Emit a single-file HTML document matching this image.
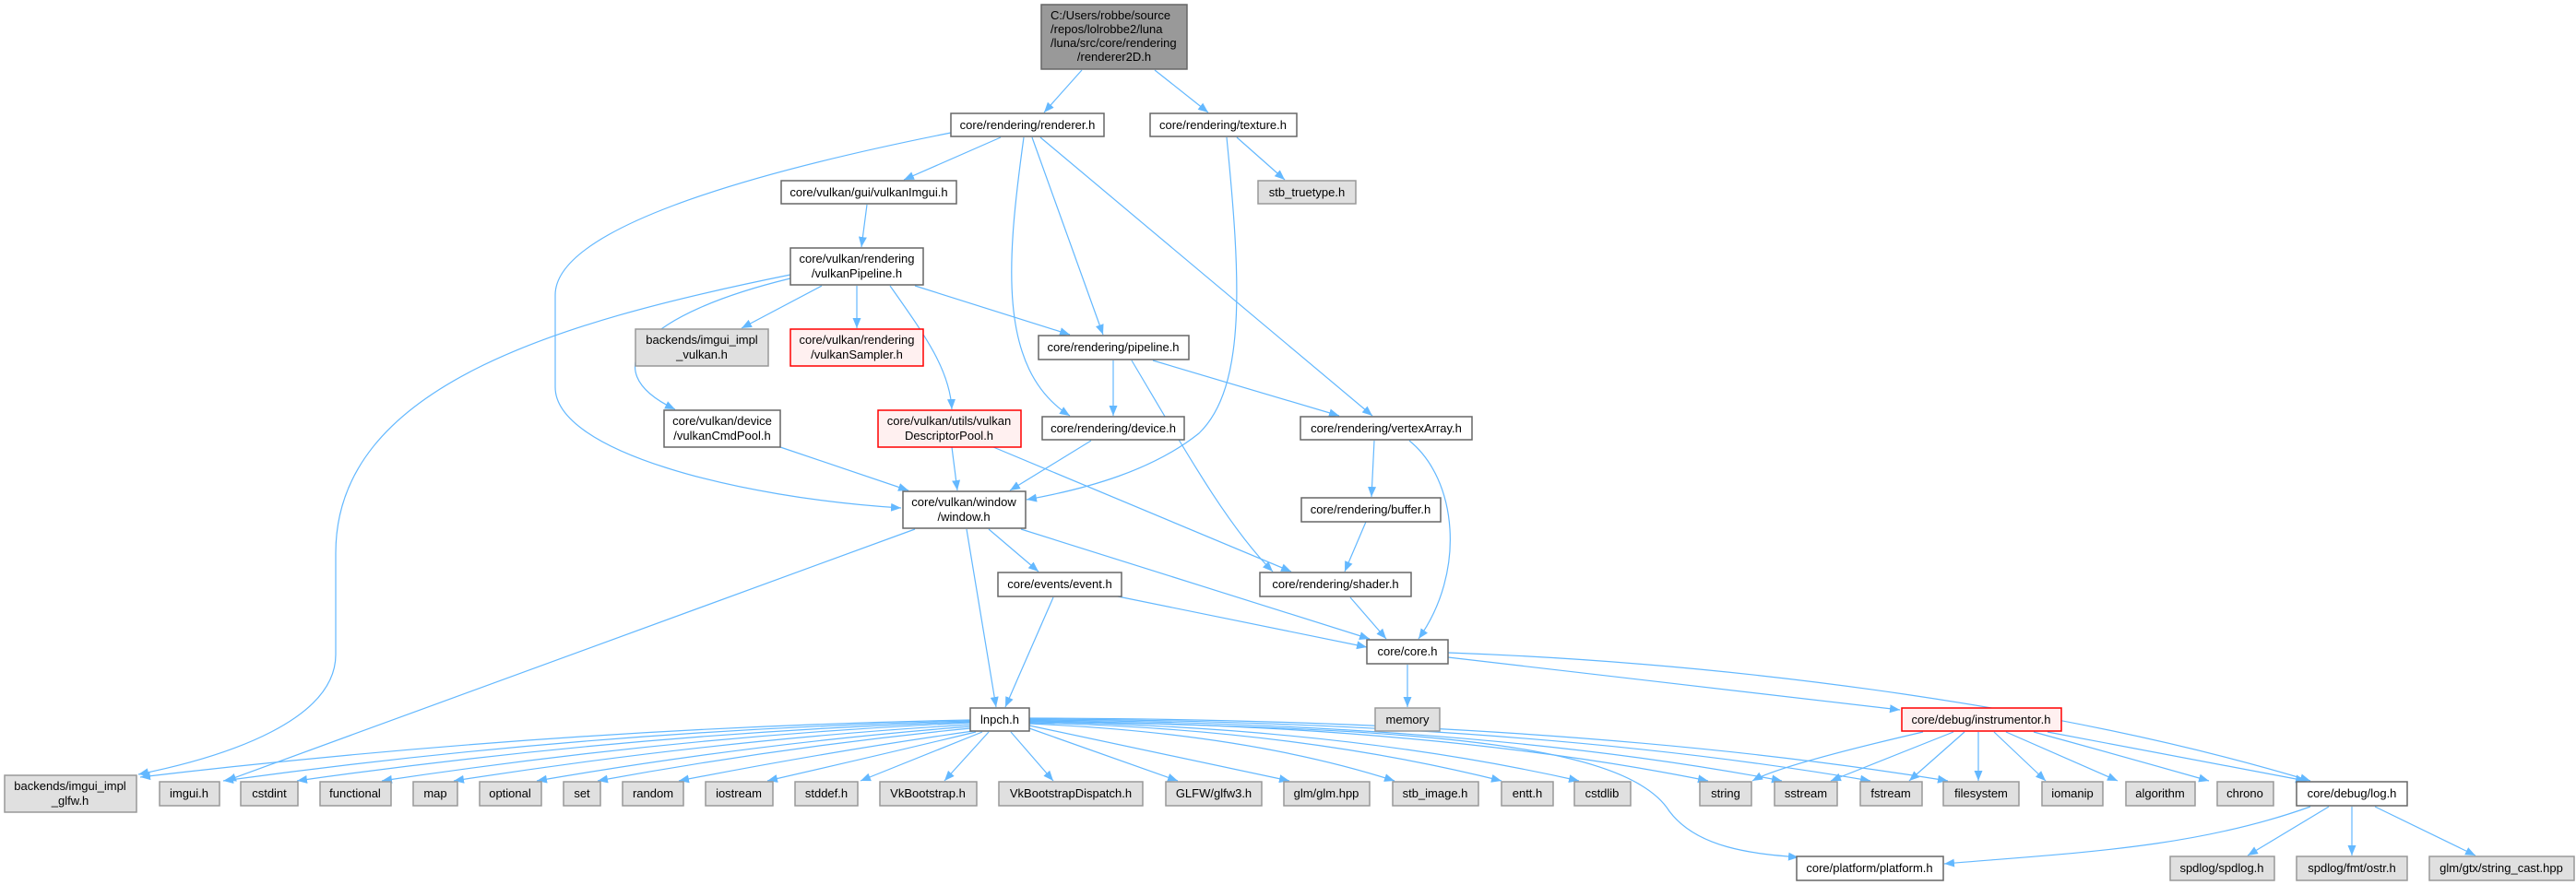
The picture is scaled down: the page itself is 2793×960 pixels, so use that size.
<!DOCTYPE html>
<html><head><meta charset="utf-8"><style>
html,body{margin:0;padding:0;background:#fff;}
svg{display:block;}
text{font-family:"Liberation Sans",Arial,sans-serif;font-size:13px;fill:#000;}
.e{fill:none;stroke:#63b8ff;stroke-width:1.2;}
.n{fill:#fff;stroke:#666;stroke-width:1.5;}
.g{fill:#e0e0e0;stroke:#999;stroke-width:1.5;}
.r{fill:#fff0f0;stroke:#f00;stroke-width:1.5;}
.root{fill:#999;stroke:#666;stroke-width:1.5;}
</style></head><body>
<svg width="2793" height="960" viewBox="0 0 2793 960" xmlns="http://www.w3.org/2000/svg">
<defs><marker id="a" markerWidth="12" markerHeight="10" refX="11" refY="5" orient="auto" markerUnits="userSpaceOnUse"><path d="M0,0.5 L11,5 L0,9.5 Z" fill="#63b8ff"/></marker></defs>
<g marker-end="url(#a)">
<path class="e" d="M1173,76 L1132,122"/>
<path class="e" d="M1252,76 L1310,122"/>
<path class="e" d="M1031,144 C800,190 602,250 602,320 L602,420 C602,490 800,540 977,551"/>
<path class="e" d="M1085,149 L980,195"/>
<path class="e" d="M1110,149 C1092,280 1080,400 1160,451"/>
<path class="e" d="M1119,149 L1196,363"/>
<path class="e" d="M1128,149 L1488,451"/>
<path class="e" d="M1330,149 C1345,300 1352,420 1300,470 C1250,510 1180,530 1113,542"/>
<path class="e" d="M1341,149 L1393,195"/>
<path class="e" d="M940,222 L934,268"/>
<path class="e" d="M857,298 C600,350 364,420 364,600 L364,710 C364,780 250,820 150,840"/>
<path class="e" d="M857,302 C700,340 640,400 732,444"/>
<path class="e" d="M891,310 L804,356"/>
<path class="e" d="M929,310 L929,356"/>
<path class="e" d="M965,310 C1000,360 1030,400 1032,444"/>
<path class="e" d="M992,310 L1160,363"/>
<path class="e" d="M1207,391 L1207,451"/>
<path class="e" d="M1227,391 C1280,480 1330,570 1380,620"/>
<path class="e" d="M1250,391 L1452,451"/>
<path class="e" d="M846,485 L985,532"/>
<path class="e" d="M1032,485 L1038,532"/>
<path class="e" d="M1077,485 L1400,620"/>
<path class="e" d="M1183,478 L1095,532"/>
<path class="e" d="M1490,478 L1487,539"/>
<path class="e" d="M1528,478 C1580,520 1590,620 1538,693"/>
<path class="e" d="M1481,566 L1458,620"/>
<path class="e" d="M992,574 L245,847"/>
<path class="e" d="M1048,574 L1080,767"/>
<path class="e" d="M1072,574 L1126,620"/>
<path class="e" d="M1107,574 L1485,693"/>
<path class="e" d="M1212,647 L1482,702"/>
<path class="e" d="M1142,648 L1090,767"/>
<path class="e" d="M1464,648 L1503,693"/>
<path class="e" d="M1526,721 L1526,767"/>
<path class="e" d="M1570,713 L2060,770"/>
<path class="e" d="M1570,708 C1900,720 2250,770 2505,847"/>
<!-- lnpch fan -->
<path class="e" d="M1052,781 Q600,790 152,843"/>
<path class="e" d="M1052,782 Q640,792 242,847"/>
<path class="e" d="M1052,783 Q690,795 322,847"/>
<path class="e" d="M1052,784 Q740,798 414,847"/>
<path class="e" d="M1052,786 Q780,802 492,847"/>
<path class="e" d="M1052,788 Q820,806 582,847"/>
<path class="e" d="M1052,790 Q850,810 648,847"/>
<path class="e" d="M1055,793 Q900,815 736,847"/>
<path class="e" d="M1058,794 Q950,820 832,847"/>
<path class="e" d="M1065,794 L933,847"/>
<path class="e" d="M1072,794 L1024,847"/>
<path class="e" d="M1096,794 L1142,847"/>
<path class="e" d="M1116,790 L1277,847"/>
<path class="e" d="M1116,787 L1398,847"/>
<path class="e" d="M1116,785 Q1350,795 1512,847"/>
<path class="e" d="M1116,784 Q1400,790 1628,847"/>
<path class="e" d="M1116,783 Q1450,788 1712,847"/>
<path class="e" d="M1116,782 Q1550,786 1852,847"/>
<path class="e" d="M1116,781 Q1600,784 1932,847"/>
<path class="e" d="M1116,780 Q1650,782 2028,847"/>
<path class="e" d="M1116,779 Q1700,780 2112,847"/>
<path class="e" d="M1116,782 C1500,790 1760,800 1810,880 C1840,920 1900,926 1950,930"/>
<!-- instrumentor -->
<path class="e" d="M2085,794 Q1930,830 1900,847"/>
<path class="e" d="M2118,794 L1985,847"/>
<path class="e" d="M2130,794 L2070,847"/>
<path class="e" d="M2145,794 L2145,847"/>
<path class="e" d="M2162,794 L2218,847"/>
<path class="e" d="M2175,794 L2296,847"/>
<path class="e" d="M2205,794 Q2300,820 2395,847"/>
<path class="e" d="M2220,794 L2500,847"/>
<!-- log -->
<path class="e" d="M2505,875 C2380,920 2250,925 2108,937"/>
<path class="e" d="M2525,875 L2437,928"/>
<path class="e" d="M2550,875 L2550,928"/>
<path class="e" d="M2575,875 L2684,928"/>
</g>
<!-- nodes -->
<rect class="root" x="1129" y="5" width="158" height="70"/>
<text x="1139" y="21">C:/Users/robbe/source</text>
<text x="1139" y="36">/repos/lolrobbe2/luna</text>
<text x="1139" y="51">/luna/src/core/rendering</text>
<text x="1208" y="66" text-anchor="middle">/renderer2D.h</text>

<g text-anchor="middle">
<rect class="n" x="1031" y="123" width="166" height="25"/><text x="1114" y="140">core/rendering/renderer.h</text>
<rect class="n" x="1247" y="123" width="159" height="25"/><text x="1326" y="140">core/rendering/texture.h</text>
<rect class="n" x="847" y="196" width="190" height="25"/><text x="942" y="213">core/vulkan/gui/vulkanImgui.h</text>
<rect class="g" x="1364" y="196" width="106" height="25"/><text x="1417" y="213">stb_truetype.h</text>
<rect class="n" x="857" y="269" width="144" height="40"/><text x="929" y="285">core/vulkan/rendering</text><text x="929" y="301">/vulkanPipeline.h</text>
<rect class="g" x="689" y="357" width="144" height="40"/><text x="761" y="373">backends/imgui_impl</text><text x="761" y="389">_vulkan.h</text>
<rect class="r" x="857" y="357" width="144" height="40"/><text x="929" y="373">core/vulkan/rendering</text><text x="929" y="389">/vulkanSampler.h</text>
<rect class="n" x="1126" y="364" width="163" height="26"/><text x="1207" y="381">core/rendering/pipeline.h</text>
<rect class="n" x="720" y="445" width="126" height="40"/><text x="783" y="461">core/vulkan/device</text><text x="783" y="477">/vulkanCmdPool.h</text>
<rect class="r" x="952" y="445" width="155" height="40"/><text x="1029" y="461">core/vulkan/utils/vulkan</text><text x="1029" y="477">DescriptorPool.h</text>
<rect class="n" x="1130" y="452" width="154" height="25"/><text x="1207" y="469">core/rendering/device.h</text>
<rect class="n" x="1410" y="452" width="186" height="25"/><text x="1503" y="469">core/rendering/vertexArray.h</text>
<rect class="n" x="979" y="533" width="133" height="40"/><text x="1045" y="549">core/vulkan/window</text><text x="1045" y="565">/window.h</text>
<rect class="n" x="1411" y="540" width="151" height="26"/><text x="1486" y="557">core/rendering/buffer.h</text>
<rect class="n" x="1082" y="621" width="134" height="26"/><text x="1149" y="638">core/events/event.h</text>
<rect class="n" x="1366" y="621" width="164" height="26"/><text x="1448" y="638">core/rendering/shader.h</text>
<rect class="n" x="1482" y="694" width="88" height="26"/><text x="1526" y="711">core/core.h</text>
<rect class="n" x="1052" y="768" width="64" height="25"/><text x="1084" y="785">lnpch.h</text>
<rect class="g" x="1491" y="768" width="70" height="25"/><text x="1526" y="785">memory</text>
<rect class="r" x="2062" y="768" width="173" height="25"/><text x="2148" y="785">core/debug/instrumentor.h</text>
<rect class="g" x="5" y="841" width="143" height="40"/><text x="76" y="857">backends/imgui_impl</text><text x="76" y="873">_glfw.h</text>
<rect class="g" x="173" y="848" width="65" height="26"/><text x="205" y="865">imgui.h</text>
<rect class="g" x="261" y="848" width="62" height="26"/><text x="292" y="865">cstdint</text>
<rect class="g" x="347" y="848" width="77" height="26"/><text x="385" y="865">functional</text>
<rect class="g" x="448" y="848" width="48" height="26"/><text x="472" y="865">map</text>
<rect class="g" x="520" y="848" width="67" height="26"/><text x="553" y="865">optional</text>
<rect class="g" x="611" y="848" width="40" height="26"/><text x="631" y="865">set</text>
<rect class="g" x="675" y="848" width="66" height="26"/><text x="708" y="865">random</text>
<rect class="g" x="765" y="848" width="73" height="26"/><text x="801" y="865">iostream</text>
<rect class="g" x="862" y="848" width="68" height="26"/><text x="896" y="865">stddef.h</text>
<rect class="g" x="954" y="848" width="105" height="26"/><text x="1006" y="865">VkBootstrap.h</text>
<rect class="g" x="1083" y="848" width="156" height="26"/><text x="1161" y="865">VkBootstrapDispatch.h</text>
<rect class="g" x="1264" y="848" width="104" height="26"/><text x="1316" y="865">GLFW/glfw3.h</text>
<rect class="g" x="1392" y="848" width="93" height="26"/><text x="1438" y="865">glm/glm.hpp</text>
<rect class="g" x="1510" y="848" width="93" height="26"/><text x="1556" y="865">stb_image.h</text>
<rect class="g" x="1628" y="848" width="56" height="26"/><text x="1656" y="865">entt.h</text>
<rect class="g" x="1707" y="848" width="61" height="26"/><text x="1737" y="865">cstdlib</text>
<rect class="g" x="1843" y="848" width="56" height="26"/><text x="1871" y="865">string</text>
<rect class="g" x="1924" y="848" width="68" height="26"/><text x="1958" y="865">sstream</text>
<rect class="g" x="2017" y="848" width="67" height="26"/><text x="2050" y="865">fstream</text>
<rect class="g" x="2107" y="848" width="82" height="26"/><text x="2148" y="865">filesystem</text>
<rect class="g" x="2214" y="848" width="66" height="26"/><text x="2247" y="865">iomanip</text>
<rect class="g" x="2305" y="848" width="75" height="26"/><text x="2342" y="865">algorithm</text>
<rect class="g" x="2404" y="848" width="61" height="26"/><text x="2434" y="865">chrono</text>
<rect class="n" x="2490" y="848" width="120" height="26"/><text x="2550" y="865">core/debug/log.h</text>
<rect class="n" x="1948" y="929" width="159" height="26"/><text x="2027" y="946">core/platform/platform.h</text>
<rect class="g" x="2353" y="929" width="113" height="26"/><text x="2409" y="946">spdlog/spdlog.h</text>
<rect class="g" x="2490" y="929" width="120" height="26"/><text x="2550" y="946">spdlog/fmt/ostr.h</text>
<rect class="g" x="2634" y="929" width="157" height="26"/><text x="2712" y="946">glm/gtx/string_cast.hpp</text>
</g>
</svg>
</body></html>
